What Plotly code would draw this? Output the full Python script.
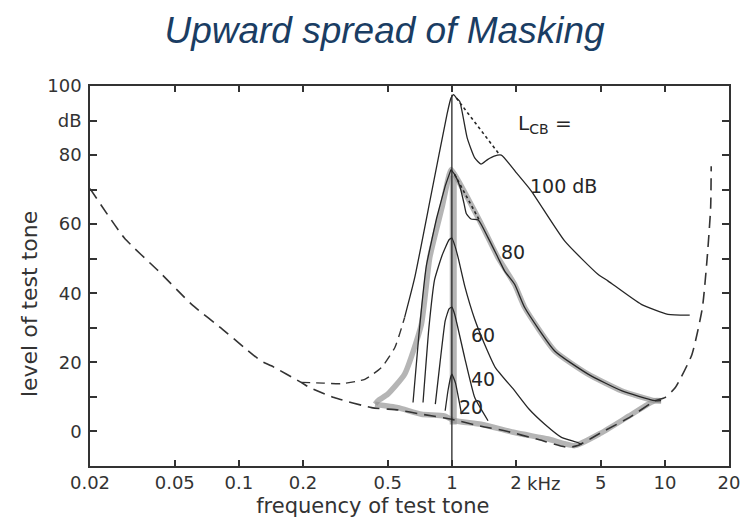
import math
import plotly.graph_objects as go

# ---------------- data (frequency in kHz, level in dB) ----------------
x_tickvals = [0.02, 0.05, 0.1, 0.2, 0.5, 1, 2, 5, 10, 20]
x_ticktext = ["0.02", "0.05", "0.1", "0.2", "0.5", "1", "2", "5", "10", "20"]
y_tickvals = [0, 20, 40, 60, 80, 90, 100]
y_ticktext = ["0", "20", "40", "60", "80", "dB", "100"]

# threshold in quiet (dashed)
thr_f = [0.02, 0.029, 0.042, 0.06, 0.086, 0.105, 0.127, 0.142, 0.196, 0.215, 0.28, 0.42,
         0.56, 0.72, 1.0, 1.37, 1.77, 2.5, 3.5, 3.9, 5.2, 6.8, 9.0, 10.0, 11.2, 13.4, 15.0,
         15.8, 16.4, 16.5]
thr_L = [70.3, 56, 46.4, 36.8, 29, 24.5, 20.4, 19, 14.2, 12.7, 9.8, 6.9,
         6.2, 5, 3.5, 1.5, 0.2, -2.2, -4.6, -4.1, 0.2, 4, 8.9, 9.8, 12.7, 22.3, 35.8,
         50.3, 64.7, 76.8]

# L_CB = 100 dB : dashed low part, solid curve, dotted bridge
m100_dash_f = [0.196, 0.25, 0.3, 0.39, 0.467, 0.54, 0.6]
m100_dash_L = [14.2, 14.0, 13.8, 15.1, 18.5, 24.3, 33]
m100_f = [0.6, 0.669, 0.8, 0.95, 0.99, 1.02, 1.05, 1.088, 1.18, 1.28, 1.37, 1.47, 1.58,
          1.706, 2.0, 2.36, 3.39, 4.85, 5.4, 7.75, 10.34, 13.08]
m100_L = [33, 44.5, 68.7, 92, 96.5, 97.5, 96.5, 95.6, 85, 79.2, 77.4, 78.7, 79.7,
          80, 75, 69.6, 55.1, 45.5, 43.6, 36.8, 33.9, 33.7]
m100_dot_f = [1.05, 1.68]
m100_dot_L = [96.5, 80]

# L_CB = 80 dB
m80_left_f = [0.657, 0.70, 0.759, 0.85, 0.93, 0.99]
m80_left_L = [8.4, 28, 48, 62, 71, 75.8]
m80_right_f = [0.99, 1.03, 1.09, 1.14, 1.17, 1.23, 1.33, 1.478, 1.647, 1.77, 1.97, 2.2,
               3.04, 4.36, 6.25, 8.96, 9.6]
m80_right_L = [75.8, 74.4, 71, 66, 63, 61.5, 61.2, 56.1, 50.3, 46.4, 42.6, 35.8,
               23.3, 16.6, 11.8, 8.9, 8.9]
m80_dot_f = [1.03, 1.35]
m80_dot_L = [74.4, 61]

# L_CB = 60 dB
m60_f = [0.732, 0.78, 0.83, 0.9, 0.97, 1.0, 1.03, 1.07, 1.15, 1.28, 1.426, 1.6, 1.97,
         2.3, 2.73, 3.27, 3.9, 4.06]
m60_L = [8.4, 30, 44, 51, 55.5, 56, 54, 50.3, 42, 32.5, 25.2, 18.5, 11.8,
         6.5, 2.1, -1.7, -3.2, -3.8]

# L_CB = 40 dB
m40_f = [0.836, 0.88, 0.93, 0.97, 1.0, 1.03, 1.148, 1.28, 1.478]
m40_L = [7.9, 20, 32, 35.5, 36, 34, 21.4, 9.8, 3.1]

# L_CB = 20 dB
m20_f = [0.93, 0.96, 0.99, 1.0, 1.04, 1.088, 1.11]
m20_L = [6, 12, 16, 16.6, 14, 7.9, 5]

# 1 kHz masker line
mask_f = [1.0, 1.0]
mask_L = [-10, 97.5]

# grey highlight traces
g1_f = [0.436, 0.45, 0.5, 0.6, 0.719, 0.787, 0.9, 0.99, 1.03, 1.35, 1.478, 1.647, 1.97,
        2.2, 3.04, 4.36, 6.25, 8.96, 9.6]
g1_L = [7.9, 8.9, 10.8, 16.6, 31, 50.3, 65, 75.8, 74.4, 61, 56.1, 50.3, 42.6,
        35.8, 23.3, 16.6, 11.8, 8.9, 8.9]
g2_f = [0.436, 0.558, 0.719, 0.92, 1.03, 1.37, 1.97, 2.83, 3.77, 5.0, 6.8, 8.96, 9.6]
g2_L = [7.9, 6.9, 5, 4.5, 3.1, 2.1, -0.3, -2.2, -4.1, -0.5, 4.5, 8.9, 8.9]
g3_f = [1.015, 1.015]
g3_L = [2, 74]

# curve labels (frequency kHz, level dB, text)
lab_f = [10 ** 0.5263, 10 ** 0.287, 10 ** 0.146, 10 ** 0.146, 10 ** 0.0874]
lab_L = [71, 52, 28, 15.2, 7.1]
lab_t = ["100 dB", "80", "60", "40", "20"]

# ---------------- figure ----------------
INK = "#262626"
AX = "#333333"
GREY = "rgba(150,150,150,0.7)"
FONT = "DejaVu Sans"

fig = go.Figure()


def add(f, L, color=INK, width=1.3, dash="solid", smooth=0.5):
    fig.add_trace(go.Scatter(x=f, y=L, mode="lines", hoverinfo="skip", showlegend=False,
                             line=dict(color=color, width=width, dash=dash, shape="spline",
                                       smoothing=smooth)))


# grey overlays
add(g1_f, g1_L, GREY, 5.5)
add(g2_f, g2_L, GREY, 5.5)
add(g3_f, g3_L, GREY, 7, smooth=0)

# black curves
add(thr_f, thr_L, AX, 1.6, "12px,7px")
add(m100_dash_f, m100_dash_L, AX, 1.4, "9px,6px")
add(m100_f, m100_L)
add(m100_dot_f, m100_dot_L, INK, 1.6, "dot", 0)
add(m80_left_f, m80_left_L, smooth=0.3)
add(m80_right_f, m80_right_L)
add(m80_dot_f, m80_dot_L, INK, 1.6, "dot", 0)
add(m60_f, m60_L, smooth=0.4)
add(m40_f, m40_L, smooth=0.4)
add(m20_f, m20_L, smooth=0.4)
add(mask_f, mask_L, INK, 1.3, smooth=0)

# labels
for f, L, t in zip(lab_f, lab_L, lab_t):
    fig.add_annotation(x=math.log10(f), y=L, text=t, showarrow=False,
                       font=dict(family=FONT, size=19, color=INK))
fig.add_annotation(x=math.log10(2.0), y=89, text="L<sub>CB</sub> =", showarrow=False,
                   xanchor="left", font=dict(family=FONT, size=20, color=INK))
fig.add_annotation(x=math.log10(2.0), xref="x", y=0, yref="paper", text="kHz",
                   showarrow=False, xanchor="left", yanchor="middle", xshift=9, yshift=-17,
                   font=dict(family=FONT, size=18, color=AX))

axis_common = dict(showline=True, linecolor=AX, linewidth=1.5, mirror="ticks",
                   ticks="inside", tickcolor=AX, tickwidth=1.5, showgrid=False,
                   zeroline=False, tickfont=dict(family=FONT, size=18, color=AX))

fig.update_layout(
    width=753, height=526,
    margin=dict(l=82, r=32, t=78, b=68),
    paper_bgcolor="white", plot_bgcolor="white",
    title=dict(text="Upward spread of Masking", x=0.5, xanchor="center", y=0.958,
               yanchor="middle",
               font=dict(family="Liberation Sans, Arial", size=37, color="#1A3D63",
                         style="italic")),
    xaxis=dict(type="log", range=[math.log10(0.02), math.log10(20)],
               tickvals=x_tickvals, ticktext=x_ticktext, ticklen=6,
               title=dict(text="frequency of test tone" + "\u00a0" * 11 + "\u200b",
                          standoff=6, font=dict(family=FONT, size=21, color=AX)),
               **axis_common),
    yaxis=dict(range=[-10, 100], tickvals=y_tickvals, ticktext=y_ticktext, ticklen=7,
               ticklabelstandoff=3,
               minor=dict(ticks="inside", ticklen=7, tickwidth=1.5, tickcolor=AX,
                          tick0=0, dtick=10, showgrid=False),
               title=dict(text="level of test tone" + "\u00a0" * 8 + "\u200b",
                          standoff=4, font=dict(family=FONT, size=22, color=AX)),
               **axis_common),
)

fig.write_html("out.html")
